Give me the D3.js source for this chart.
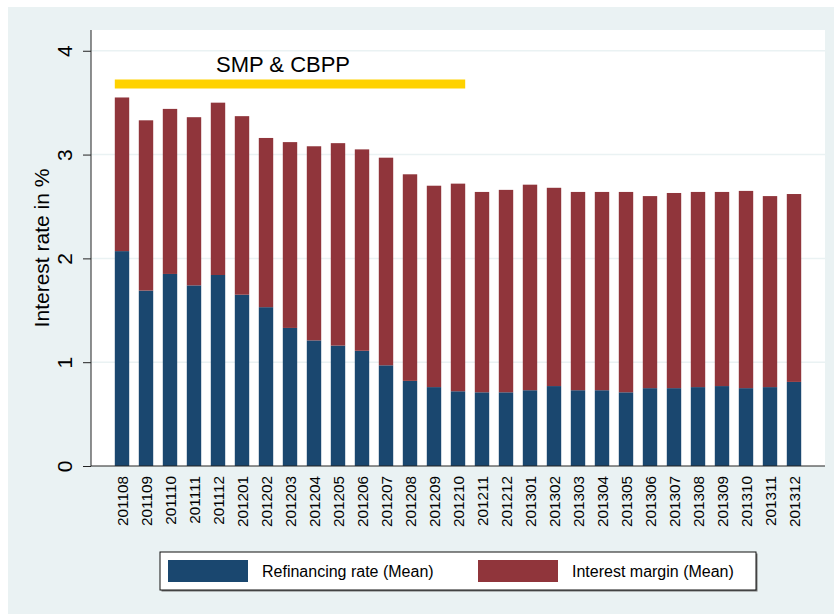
<!DOCTYPE html>
<html>
<head>
<meta charset="utf-8">
<script src="https://cdn.jsdelivr.net/npm/d3@7"></script>
<style>
  body { margin: 0; background: #fff; }
  svg text { font-family: "Liberation Sans", Arial, sans-serif; fill: #000; }
</style>
</head>
<body>
<div id="chart"></div>
<script>
// months on the x axis
var months = ["201108","201109","201110","201111","201112","201201","201202","201203","201204","201205",
              "201206","201207","201208","201209","201210","201211","201212","201301","201302","201303",
              "201304","201305","201306","201307","201308","201309","201310","201311","201312"];

// refinancing rate (mean), bottom segment
var refinancing = [2.07,1.69,1.85,1.74,1.84,1.65,1.53,1.33,1.21,1.16,
                   1.11,0.97,0.82,0.76,0.72,0.71,0.71,0.73,0.77,0.73,
                   0.73,0.71,0.75,0.75,0.76,0.77,0.75,0.76,0.81];

// interest margin (mean), top segment
var margin = [1.48,1.64,1.59,1.62,1.66,1.72,1.63,1.79,1.87,1.95,
              1.94,2.00,1.99,1.94,2.00,1.93,1.95,1.98,1.91,1.91,
              1.91,1.93,1.85,1.88,1.88,1.87,1.90,1.84,1.81];

var yTicks = [0, 1, 2, 3, 4];
var seriesNames = ["Refinancing rate (Mean)", "Interest margin (Mean)"];
var colors = ["#1a476f", "#90353b"];

// SMP & CBPP period marker
var smpLabel = "SMP & CBPP";
var smpStart = "201108", smpEnd = "201210", smpLevel = 3.68;

var W = 834, H = 614;
var plot = {left: 91, right: 825, top: 30, bottom: 466};

var svg = d3.select("#chart").append("svg")
    .attr("width", W)
    .attr("height", H);

// stata-ish background
svg.append("rect").attr("x", 8).attr("y", 7).attr("width", W - 8).attr("height", H - 7)
    .attr("fill", "#eaf2f3");
svg.append("rect").attr("x", plot.left).attr("y", plot.top)
    .attr("width", plot.right - plot.left).attr("height", plot.bottom - plot.top)
    .attr("fill", "#fff");

var x = d3.scaleBand()
    .domain(months)
    .range([110, 806])
    .paddingInner(0.4)
    .paddingOuter(0.2);

var y = d3.scaleLinear()
    .domain([0, 4.2])
    .range([plot.bottom, plot.top]);

// grid
svg.append("g").selectAll("line")
    .data(yTicks.filter(function(d){ return d > 0; }))
    .enter().append("line")
    .attr("x1", plot.left).attr("x2", plot.right)
    .attr("y1", function(d){ return y(d); })
    .attr("y2", function(d){ return y(d); })
    .attr("stroke", "#eaf2f3")
    .attr("stroke-width", 1.5);

var rows = months.map(function(m, i) {
    return {month: m, ref: refinancing[i], mar: margin[i]};
});
var stacked = d3.stack().keys(["ref", "mar"])(rows);

svg.append("g").selectAll("g")
    .data(stacked)
    .enter().append("g")
    .attr("fill", function(d, i){ return colors[i]; })
    .selectAll("rect")
    .data(function(d){ return d; })
    .enter().append("rect")
    .attr("x", function(d){ return x(d.data.month); })
    .attr("width", x.bandwidth())
    .attr("y", function(d){ return y(d[1]); })
    .attr("height", function(d){ return y(d[0]) - y(d[1]); });

// y axis
var yAxis = svg.append("g")
    .attr("transform", "translate(" + plot.left + ",0)")
    .call(d3.axisLeft(y).tickValues(yTicks).tickSize(8).tickFormat(d3.format("d")));
yAxis.select(".domain").attr("stroke", "#222").attr("d", "M0," + plot.top + "V" + plot.bottom);
yAxis.selectAll(".tick line").attr("stroke", "#222");
yAxis.selectAll(".tick text")
    .attr("transform", "rotate(-90)")
    .attr("x", 0).attr("y", -19).attr("dy", 0)
    .attr("text-anchor", "middle")
    .style("font-size", "21px");

// x axis
var xAxis = svg.append("g")
    .attr("transform", "translate(0," + plot.bottom + ")")
    .call(d3.axisBottom(x).tickSize(0));
xAxis.select(".domain").attr("stroke", "#222").attr("d", "M" + plot.left + ",0H" + plot.right);
xAxis.selectAll(".tick text")
    .attr("transform", "rotate(-90)")
    .attr("x", -10).attr("y", 1).attr("dy", "0.35em")
    .attr("text-anchor", "end")
    .style("font-size", "15.3px");

// y title
svg.append("text")
    .attr("transform", "translate(49," + ((plot.top + plot.bottom) / 2) + ") rotate(-90)")
    .attr("text-anchor", "middle")
    .style("font-size", "21px")
    .text("Interest rate in %");

// SMP marker
svg.append("line")
    .attr("x1", x(smpStart))
    .attr("x2", x(smpEnd) + x.bandwidth())
    .attr("y1", y(smpLevel)).attr("y2", y(smpLevel))
    .attr("stroke", "#ffd200")
    .attr("stroke-width", 9);
svg.append("text")
    .attr("x", 283).attr("y", 72)
    .attr("text-anchor", "middle")
    .style("font-size", "22px")
    .text(smpLabel);

// legend
var lg = svg.append("g");
lg.append("rect").attr("x", 161.5).attr("y", 553.5).attr("width", 596).attr("height", 38)
    .attr("fill", "#777");
lg.append("rect").attr("x", 160).attr("y", 552).attr("width", 596).attr("height", 38)
    .attr("fill", "#fff").attr("stroke", "#111").attr("stroke-width", 1);
var legX = [168, 478];
seriesNames.forEach(function(name, i) {
    lg.append("rect")
        .attr("x", legX[i]).attr("y", 560).attr("width", 80).attr("height", 22)
        .attr("fill", colors[i]);
    lg.append("text")
        .attr("x", legX[i] + 94).attr("y", 577)
        .style("font-size", "16px")
        .text(name);
});
</script>
</body>
</html>
